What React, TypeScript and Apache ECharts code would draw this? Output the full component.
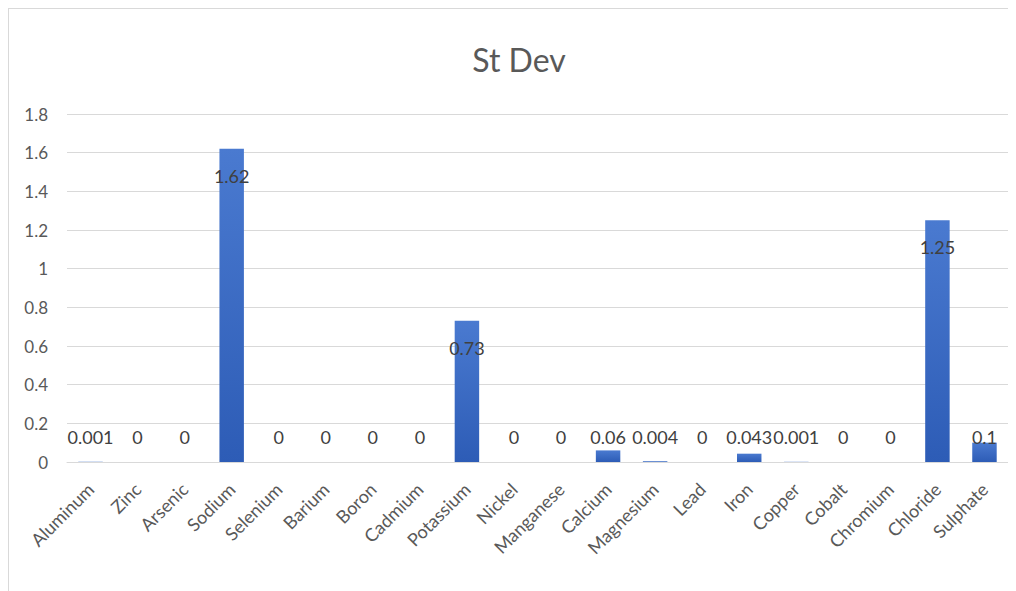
import React, { useEffect, useRef } from "react";
import * as echarts from "echarts";

const categories = [
  "Aluminum", "Zinc", "Arsenic", "Sodium", "Selenium", "Barium", "Boron", "Cadmium",
  "Potassium", "Nickel", "Manganese", "Calcium", "Magnesium", "Lead", "Iron", "Copper",
  "Cobalt", "Chromium", "Chloride", "Sulphate",
];
const stDev = [
  0.001, 0, 0, 1.62, 0, 0, 0, 0, 0.73, 0, 0, 0.06, 0.004, 0, 0.043, 0.001, 0, 0, 1.25, 0.1,
];
const yTicks = { min: 0, max: 1.8, interval: 0.2 };
const titleText = "St Dev";

const FONT = "Lato, 'Open Sans', sans-serif";

export default function App() {
  const ref = useRef<HTMLDivElement>(null);
  useEffect(() => {
    if (!ref.current) return;
    const chart = echarts.init(ref.current, undefined, { renderer: "svg" });
    const data = stDev.map((v) => ({
      value: v,
      label:
        v >= 0.5
          ? { position: "insideTop", distance: 18 }
          : { position: "insideBottom", distance: 16 },
    }));
    chart.setOption({
      animation: false,
      title: {
        text: titleText,
        left: 505,
        top: 29,
        textAlign: "center",
        textStyle: { fontFamily: FONT, fontSize: 32, fontWeight: "normal", color: "#595959" },
      },
      grid: { left: 58, right: 1, top: 105, bottom: 129, containLabel: false },
      xAxis: {
        type: "category",
        data: categories,
        axisLine: { lineStyle: { color: "#d9d9d9", width: 1 } },
        axisTick: { show: false },
        axisLabel: {
          rotate: 45,
          interval: 0,
          margin: 24,
          color: "#595959",
          fontFamily: FONT,
          fontSize: 18,
        },
      },
      yAxis: {
        type: "value",
        min: yTicks.min,
        max: yTicks.max,
        interval: yTicks.interval,
        axisLine: { show: false },
        axisTick: { show: false },
        splitLine: { lineStyle: { color: "#d9d9d9", width: 1 } },
        axisLabel: {
          margin: 19,
          color: "#595959",
          fontFamily: FONT,
          fontSize: 17,
          formatter: (v: number) => String(Math.round(v * 10) / 10),
        },
      },
      series: [
        {
          type: "bar",
          data,
          barCategoryGap: "48%",
          itemStyle: {
            color: new echarts.graphic.LinearGradient(0, 0, 0, 1, [
              { offset: 0, color: "#4a7ad0" },
              { offset: 1, color: "#2d5cb6" },
            ]),
          },
          label: {
            show: true,
            color: "#404040",
            fontFamily: FONT,
            fontSize: 18,
          },
        },
      ],
    });
    return () => chart.dispose();
  }, []);
  return (
    <div
      style={{
        width: 1010,
        height: 582,
        borderLeft: "1px solid #d9d9d9",
        borderTop: "1px solid #d9d9d9",
      }}
    >
      <div ref={ref} style={{ width: 1000, height: 582 }} />
    </div>
  );
}
